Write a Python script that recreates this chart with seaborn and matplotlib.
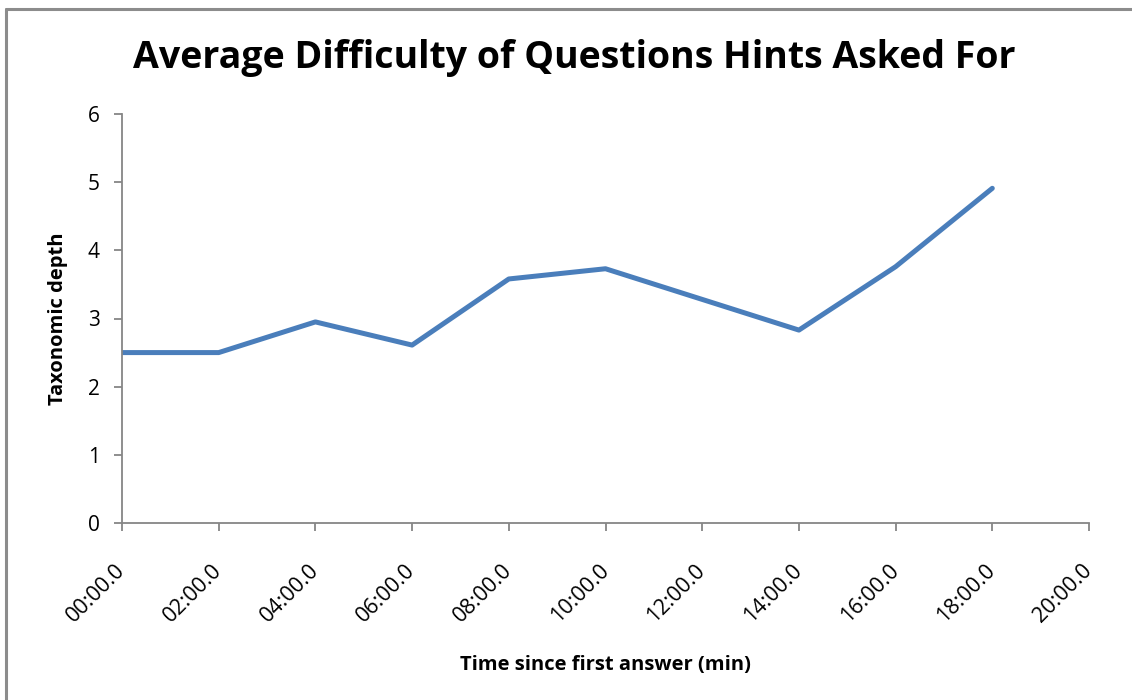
import matplotlib
matplotlib.use("Agg")
import matplotlib.pyplot as plt
import matplotlib.transforms as mtransforms
from matplotlib.lines import Line2D
import seaborn as sns
import pandas as pd

# Average taxonomic depth of hinted questions over time
minutes = [0, 2, 4, 6, 8, 10, 14, 16, 18]
depth = [2.5, 2.5, 2.95, 2.61, 3.58, 3.73, 2.83, 3.76, 4.91]

tick_minutes = [0, 2, 4, 6, 8, 10, 12, 14, 16, 18, 20]
tick_labels = ["00:00.0", "02:00.0", "04:00.0", "06:00.0", "08:00.0", "10:00.0",
               "12:00.0", "14:00.0", "16:00.0", "18:00.0", "20:00.0"]
y_ticks = [0, 1, 2, 3, 4, 5, 6]

sns.set_theme(style="white")
plt.rcParams["font.family"] = ["Open Sans", "DejaVu Sans"]
plt.rcParams["text.color"] = "black"
plt.rcParams["axes.labelcolor"] = "black"
plt.rcParams["xtick.color"] = "black"
plt.rcParams["ytick.color"] = "black"

df = pd.DataFrame({"minutes": minutes, "depth": depth})

fig = plt.figure(figsize=(11.32, 7.0), dpi=100)
ax = fig.add_axes([122 / 1132, 1 - 523 / 700, (1089 - 122) / 1132, (523 - 114) / 700])

sns.lineplot(data=df, x="minutes", y="depth", ax=ax, color="#4A7EBB",
             linewidth=3.6, solid_capstyle="round", solid_joinstyle="round")

ax.set_xlim(0, 20)
ax.set_ylim(0, 6)
ax.set_xticks(tick_minutes)
ax.set_xticklabels(tick_labels, rotation=45, ha="right", va="center",
                   rotation_mode="anchor", fontsize=15.5)
ax.set_yticks(y_ticks)
ax.set_yticklabels([str(v) for v in y_ticks], fontsize=15)

# Nudge the rotated time labels a little to the right of their ticks
shift = mtransforms.ScaledTranslation(4 / 100, 0, fig.dpi_scale_trans)
for lbl in ax.get_xticklabels():
    lbl.set_transform(lbl.get_transform() + shift)

axis_gray = "#868686"
for side in ("top", "right"):
    ax.spines[side].set_visible(False)
for side in ("left", "bottom"):
    ax.spines[side].set_color(axis_gray)
    ax.spines[side].set_linewidth(1.3)
ax.tick_params(axis="both", which="major", direction="out", length=6, width=1.3,
               color=axis_gray, left=True, bottom=True, labelcolor="black")
ax.tick_params(axis="x", pad=26)
ax.tick_params(axis="y", pad=10)

ax.set_xlabel("Time since first answer (min)", fontsize=14.5, fontweight="bold",
              labelpad=20)
ax.set_ylabel("Taxonomic depth", fontsize=14.5, fontweight="bold", labelpad=14)

fig.text(574 / 1132, 1 - 58 / 700, "Average Difficulty of Questions Hints Asked For",
         ha="center", va="center", fontsize=27, fontweight="bold", color="black")

# Chart-area border along the left and top edges
fig.add_artist(Line2D([6 / 1132, 6 / 1132], [0, 1 - 8.5 / 700], transform=fig.transFigure,
                      color="#8c8c8c", linewidth=2.2))
fig.add_artist(Line2D([6 / 1132, 1], [1 - 8.5 / 700, 1 - 8.5 / 700], transform=fig.transFigure,
                      color="#8c8c8c", linewidth=2.2))

fig.savefig("out.png", dpi=100)
